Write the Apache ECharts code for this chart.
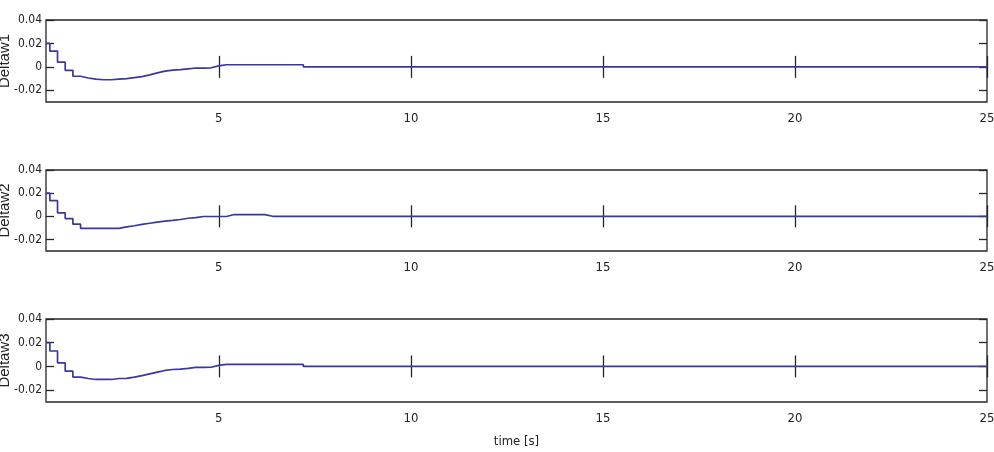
<!DOCTYPE html>
<html>
<head>
<meta charset="utf-8">
<script src="https://cdn.jsdelivr.net/npm/echarts@6/dist/echarts.min.js"></script>
<style>
html,body{margin:0;padding:0;background:#fff;}
#chart{width:994px;height:452px;}
</style>
</head>
<body>
<div id="chart"></div>
<script>
const time = [0.5, 0.6, 0.8, 1.0, 1.2, 1.4, 1.6, 1.8, 2.0, 2.2, 2.4, 2.6, 2.8, 3.0, 3.2, 3.4, 3.6, 3.8, 4.0, 4.2, 4.4, 4.6, 4.8, 5.0, 5.2, 5.4, 5.6, 5.8, 6.0, 6.2, 6.4, 6.6, 6.8, 7.0, 7.2, 25];
const deltaw1 = [0.020, 0.0135, 0.004, -0.003, -0.008, -0.0095, -0.0105, -0.011, -0.011, -0.0105, -0.0100, -0.0092, -0.0083, -0.0068, -0.0052, -0.0036, -0.0028, -0.0024, -0.0017, -0.0010, -0.0010, -0.0008, 0.0008, 0.0018, 0.0018, 0.0018, 0.0018, 0.0018, 0.0018, 0.0018, 0.0018, 0.0018, 0.0018, 0.0018, 0, 0];
const deltaw2 = [0.020, 0.0135, 0.003, -0.002, -0.0068, -0.0105, -0.0105, -0.0105, -0.0105, -0.0105, -0.0092, -0.0082, -0.0070, -0.0060, -0.0050, -0.0042, -0.0036, -0.0028, -0.0017, -0.0012, -0.0002, -0.0002, -0.0002, -0.0002, 0.0015, 0.0015, 0.0015, 0.0015, 0.0015, 0, 0, 0, 0, 0, 0, 0];
const deltaw3 = [0.020, 0.013, 0.003, -0.004, -0.009, -0.0102, -0.011, -0.011, -0.011, -0.0102, -0.0100, -0.0090, -0.0078, -0.0063, -0.0048, -0.0034, -0.0026, -0.0022, -0.0017, -0.0008, -0.0008, -0.0007, 0.0009, 0.0018, 0.0018, 0.0018, 0.0018, 0.0018, 0.0018, 0.0018, 0.0018, 0.0018, 0.0018, 0.0018, 0, 0];
const xTicks = [5, 10, 15, 20, 25];
const yTicks = [-0.02, 0, 0.02, 0.04];
const names = ['Deltaw1', 'Deltaw2', 'Deltaw3'];
const seriesData = [deltaw1, deltaw2, deltaw3];

const W = 994, LEFT = 46, RIGHT = 7;
const chart = echarts.init(document.getElementById('chart'));
const FONT = "'DejaVu Sans Condensed', 'Liberation Sans', sans-serif";
const grids = [
  {left: LEFT, right: RIGHT, top: 20, height: 82},
  {left: LEFT, right: RIGHT, top: 170, height: 81},
  {left: LEFT, right: RIGHT, top: 319, height: 83}
];
function yLabel(v) {
  const k = Math.round(v * 100);
  if (k % 2 !== 0) return '';
  return k === 0 ? '0' : (k / 100).toFixed(2);
}
const tickStyle = {color: '#262626', width: 1.3};
const xAxes = [], yAxes = [], series = [], graphics = [];
grids.forEach((g, i) => {
  g.show = true; g.borderColor = '#262626'; g.borderWidth = 1.3; g.backgroundColor = '#fff';
  g.containLabel = false; g.outerBoundsMode = 'none';
  ['bottom', 'top'].forEach(pos => {
    xAxes.push({
      type: 'value', gridIndex: i, min: 0.5, max: 25, position: pos,
      axisLine: {show: false},
      splitLine: {show: false},
      axisTick: {show: true, inside: true, length: 11, customValues: xTicks, lineStyle: tickStyle},
      axisLabel: {show: pos === 'bottom', customValues: xTicks, margin: 10, color: '#222', fontFamily: FONT, fontSize: 13, hideOverlap: false},
      name: (i === 2 && pos === 'bottom') ? 'time [s]' : '',
      nameLocation: 'middle', nameGap: 33,
      nameTextStyle: {color: '#222', fontFamily: FONT, fontSize: 13}
    });
  });
  // tick-only axes on both sides
  ['left', 'right'].forEach(pos => {
    yAxes.push({
      type: 'value', gridIndex: i, min: -0.03, max: 0.04, position: pos,
      axisLine: {show: false},
      splitLine: {show: false},
      axisTick: {show: true, inside: true, length: 8, customValues: yTicks, lineStyle: tickStyle},
      axisLabel: {show: false}
    });
  });
  // label-only axis placed on the left edge of the plot
  yAxes.push({
    type: 'value', gridIndex: i, min: -0.03, max: 0.04, interval: 0.01, position: 'right',
    offset: -(W - LEFT - RIGHT),
    axisLine: {show: false},
    splitLine: {show: false},
    axisTick: {show: false},
    axisLabel: {show: true, inside: true, margin: 4, color: '#222', fontFamily: FONT, fontSize: 12,
      hideOverlap: false, showMinLabel: true, showMaxLabel: true, formatter: yLabel}
  });
  series.push({
    type: 'line', xAxisIndex: i * 2, yAxisIndex: i * 3, step: 'end', symbol: 'none',
    lineStyle: {color: '#3a37a0', width: 1.7},
    data: time.map((t, k) => [t, seriesData[i][k]])
  });
  graphics.push({
    type: 'text', x: 5, y: g.top + g.height / 2, rotation: Math.PI / 2,
    style: {text: names[i], fill: '#222', font: '15px "Liberation Sans", sans-serif', align: 'center', verticalAlign: 'middle'}
  });
});

chart.setOption({
  animation: false,
  backgroundColor: '#fff',
  grid: grids,
  xAxis: xAxes,
  yAxis: yAxes,
  series: series,
  graphic: graphics
});
</script>
</body>
</html>
